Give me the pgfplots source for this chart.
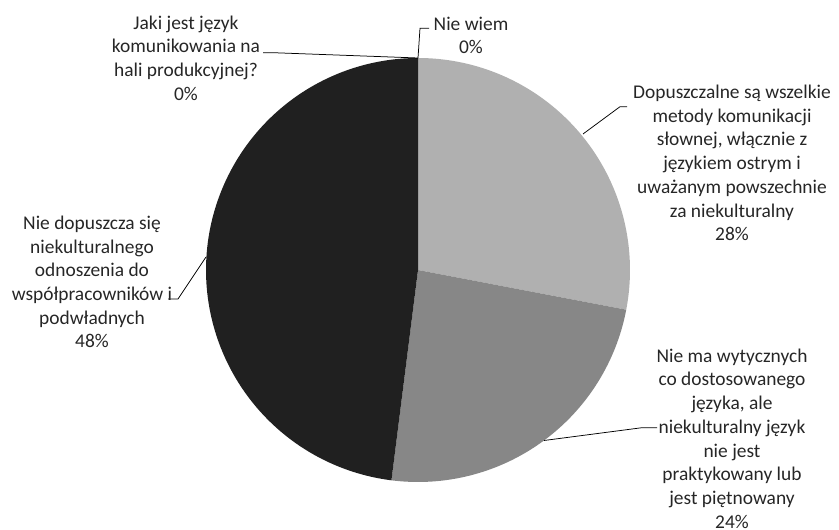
\documentclass[border=0pt]{standalone}
\usepackage{pgfplots}
\pgfplotsset{compat=1.18}
\usepackage{fontspec}
\setmainfont{Carlito}
\definecolor{sliceA}{HTML}{B0B0B0}
\definecolor{sliceB}{HTML}{878787}
\definecolor{sliceC}{HTML}{202020}
\tikzset{lbl/.style={font={\fontsize{19.5}{23.8}\selectfont}, align=center, text=black!85, inner sep=0pt}}
% shares (percent), clockwise from 12 o'clock
\def\pNieWiem{0}
\def\pA{28}
\def\pB{24}
\def\pC{48}
\def\pJaki{0}
\begin{document}
\begin{tikzpicture}
\pgfmathsetmacro{\aA}{90-3.6*(\pNieWiem+\pA)}
\pgfmathsetmacro{\aB}{\aA-3.6*\pB}
\pgfmathsetmacro{\aC}{\aB-3.6*\pC}
\begin{axis}[
  x=1bp, y=1bp,
  xmin=0, xmax=839, ymin=0, ymax=530,
  hide axis, clip=false,
]
% pie slices, centre (418,260), radius 212
\addplot[fill=sliceA, draw=none, domain=\aA:90, samples=100, variable=\t]
  ({418+212*cos(t)},{260+212*sin(t)}) -- (axis cs:418,260) -- cycle;
\addplot[fill=sliceB, draw=none, domain=\aB:\aA, samples=100, variable=\t]
  ({418+212*cos(t)},{260+212*sin(t)}) -- (axis cs:418,260) -- cycle;
\addplot[fill=sliceC, draw=none, domain=\aC:\aB, samples=150, variable=\t]
  ({418+212*cos(t)},{260+212*sin(t)}) -- (axis cs:418,260) -- cycle;
% leader lines
\addplot[black, line width=0.75bp] coordinates {(263,477.3) (273,477.3) (418,472)};
\addplot[black, line width=0.75bp] coordinates {(429,501.7) (420,501.7) (418,472)};
\addplot[black, line width=0.75bp] coordinates {(627,423.3) (620,423.3) (583,396)};
\addplot[black, line width=0.75bp] coordinates {(657,102.3) (642,102.3) (544,89.5)};
\addplot[black, line width=0.75bp] coordinates {(168,231) (178,231) (206,273)};
% labels
\node[lbl] at (axis cs:186,472) {Jaki jest język\\komunikowania na\\hali produkcyjnej?\\0\%};
\node[lbl] at (axis cs:471,494.5) {Nie wiem\\0\%};
\node[lbl] at (axis cs:732,367) {Dopuszczalne są wszelkie\\metody komunikacji\\słownej, włącznie z\\językiem ostrym i\\uważanym powszechnie\\za niekulturalny\\28\%};
\node[lbl] at (axis cs:732,91.5) {Nie ma wytycznych\\co dostosowanego\\języka, ale\\niekulturalny język\\nie jest\\praktykowany lub\\jest piętnowany\\24\%};
\node[lbl] at (axis cs:92,248) {Nie dopuszcza się\\niekulturalnego\\odnoszenia do\\współpracowników i\\podwładnych\\48\%};
\end{axis}
\pgfresetboundingbox
\path (current axis.south west) rectangle (current axis.north east);
\end{tikzpicture}
\end{document}
